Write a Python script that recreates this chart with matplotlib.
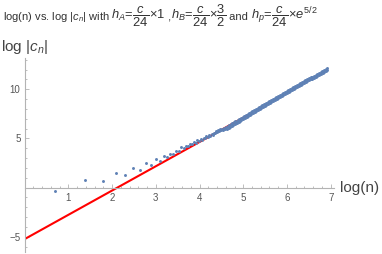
import numpy as np
import matplotlib.pyplot as plt
from matplotlib.ticker import MultipleLocator

plt.rcParams['font.family'] = ['Liberation Sans', 'DejaVu Sans']
plt.rcParams['mathtext.fontset'] = 'custom'
plt.rcParams['mathtext.rm'] = 'Liberation Sans'
plt.rcParams['mathtext.it'] = 'Liberation Sans:italic'
plt.rcParams['mathtext.bf'] = 'Liberation Sans:bold'

# coefficients for small n (only even n are non-zero): n and log|c_n|
n_small = [2, 4, 6, 8, 10, 12, 14, 16, 18, 20, 22,
           24, 26, 28, 30, 32, 34, 36, 38, 40, 42, 44, 46, 48, 50,
           52, 54, 56, 58, 60, 62, 64, 66, 68, 70, 72, 74, 76, 78,
           80, 82, 84, 86, 88, 90, 92, 94, 96, 98]
log_c_small = [-0.36, 0.73, 0.63, 1.51, 1.30, 2.01, 1.78, 2.49, 2.26, 2.87, 2.66,
               3.17, 3.10, 3.43, 3.39, 3.76, 3.73, 4.07, 3.99, 4.27, 4.20, 4.46, 4.38, 4.63, 4.55,
               4.80, 4.70, 4.95, 4.86, 5.08, 5.00, 5.21, 5.13, 5.34, 5.26, 5.47, 5.38, 5.59, 5.50,
               5.70, 5.60, 5.80, 5.70, 5.90, 5.80, 6.00, 5.89, 6.09, 5.99]

# large n: dense band, upper value at n and lower value at n+2
n_band = [100, 104, 108, 112, 116, 120, 124, 128, 132, 136,
          140, 146, 152, 158, 164, 170, 176, 182, 190, 198,
          206, 214, 222, 230, 240, 250, 260, 270, 280, 292,
          304, 316, 328, 342, 356, 370, 384, 400, 416, 432,
          450, 468, 486, 506, 526, 548, 570, 592, 616, 640,
          666, 692, 720, 748, 778, 808, 840, 874, 908, 944,
          980, 1000]
log_c_hi = [6.18, 6.26, 6.36, 6.45, 6.55, 6.64, 6.72, 6.81, 6.89, 6.97,
            7.05, 7.16, 7.26, 7.37, 7.46, 7.56, 7.65, 7.73, 7.85, 7.95,
            8.06, 8.16, 8.26, 8.35, 8.46, 8.57, 8.67, 8.77, 8.86, 8.97,
            9.08, 9.18, 9.28, 9.39, 9.49, 9.59, 9.69, 9.80, 9.90, 9.99,
            10.10, 10.19, 10.29, 10.39, 10.49, 10.59, 10.70, 10.79, 10.89, 10.99,
            11.09, 11.19, 11.28, 11.38, 11.48, 11.57, 11.67, 11.78, 11.87, 11.97,
            12.06, 12.12]
log_c_lo = [5.98, 6.06, 6.16, 6.25, 6.35, 6.44, 6.52, 6.61, 6.69, 6.77,
            6.85, 6.96, 7.06, 7.17, 7.26, 7.36, 7.45, 7.53, 7.65, 7.75,
            7.86, 7.96, 8.06, 8.15, 8.26, 8.37, 8.47, 8.57, 8.66, 8.77,
            8.88, 8.98, 9.08, 9.19, 9.29, 9.39, 9.49, 9.60, 9.70, 9.79,
            9.90, 9.99, 10.09, 10.19, 10.29, 10.39, 10.50, 10.59, 10.69, 10.79,
            10.89, 10.99, 11.08, 11.18, 11.28, 11.37, 11.47, 11.58, 11.67, 11.77,
            11.86, 11.92]

# straight line fit
fit_x = [0.0, 5.1]
fit_slope = 2.47
fit_intercept = -5.25

fig = plt.figure(figsize=(3.82, 2.54), dpi=100)
ax = fig.add_axes([0.0644, 0.0063, 0.8105, 0.7665])

blue = '#5e81b5'
fx = np.array(fit_x)
ax.plot(fx, fit_intercept + fit_slope * fx, color='#ff0000', lw=1.5, zorder=2)
ax.scatter(np.log(n_small), log_c_small, s=4.5, color=blue, linewidths=0, zorder=3)
ax.scatter(np.log(n_band), log_c_hi, s=4.5, color=blue, linewidths=0, zorder=3)
ax.scatter(np.log(np.array(n_band) + 2), log_c_lo, s=4.5, color=blue, linewidths=0, zorder=3)

ax.set_xlim(0, 7.08)
ax.set_ylim(-6.6, 13.2)

for side in ['top', 'right']:
    ax.spines[side].set_visible(False)
ax.spines['left'].set_position(('data', 0))
ax.spines['bottom'].set_position(('data', 0))
for side in ['left', 'bottom']:
    ax.spines[side].set_color('#b3b3b3')
    ax.spines[side].set_linewidth(0.8)

ax.set_xticks([1, 2, 3, 4, 5, 6, 7])
ax.set_yticks([-5, 5, 10])
ax.xaxis.set_minor_locator(MultipleLocator(0.2))
ax.yaxis.set_minor_locator(MultipleLocator(1))
ax.tick_params(which='both', direction='in', colors='#b3b3b3', labelcolor='#555555',
               labelsize=7, width=0.6)
ax.tick_params(which='major', length=2.6)
ax.tick_params(which='minor', length=1.5)
ax.tick_params(axis='x', pad=4)
ax.tick_params(axis='y', pad=3)

ax.text(7.21, 0, 'log(n)', fontsize=11, color='#444444', va='center', ha='left', clip_on=False)
fig.text(0.003, 1 - 47 / 254, r'log $|c_n|$', fontsize=11, color='#444444', va='center', ha='left')

# title built from pieces: plain words at 8pt, formulas a bit larger
title_parts = [
    (r'log(n) vs. log $|c_n|$ with ', 8),
    (r'$h_A\!=\!\dfrac{c}{24}\!\times\!1$', 9.3),
    (' ,', 8),
    (r'$h_B\!=\!\dfrac{c}{24}\!\times\!\dfrac{3}{2}$', 9.3),
    (' and ', 8),
    (r'$h_p\!=\!\dfrac{c}{24}\!\times\!e^{5/2}$', 9.3),
]
title_y = 1 - 20 / 254
x_pos = 0.008
fig.canvas.draw()
for txt, size in title_parts:
    t = fig.text(x_pos, title_y, txt, fontsize=size, color='#333333',
                 va='baseline', ha='left')
    x_pos = t.get_window_extent(renderer=fig.canvas.get_renderer()).x1 / fig.bbox.width

plt.savefig('out.png', dpi=100)
